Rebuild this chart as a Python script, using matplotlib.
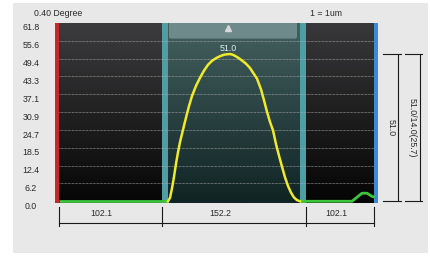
import numpy as np
import matplotlib
matplotlib.use("Agg")
import matplotlib.pyplot as plt
from matplotlib.patches import Rectangle, FancyBboxPatch

plt.rcParams['font.family'] = ['Liberation Sans', 'DejaVu Sans']

# y scale ticks
y_ticks = [0.0, 6.2, 12.4, 18.5, 24.7, 30.9, 37.1, 43.3, 49.4, 55.6, 61.8]

# profile (position along scan, height)
yel_x = [113, 115, 117, 119, 121, 123, 125, 128, 131, 134, 137, 141, 145, 149, 153,
         157, 161, 165, 169, 173, 176, 179, 183, 187, 191, 195, 198, 202, 206, 209,
         212, 215, 218, 221, 224, 227, 230, 233, 236, 239, 242, 245]
yel_y = [0.0, 1.2, 4.5, 8.5, 13.0, 17.0, 20.5, 24.8, 29.0, 33.0, 36.5, 40.0, 42.8,
         45.3, 47.3, 48.7, 49.6, 50.3, 50.8, 51.0, 51.0, 50.6, 49.8, 48.8, 47.7, 46.2,
         44.6, 42.5, 38.8, 35.0, 31.0, 27.5, 24.6, 19.8, 15.8, 12.0, 8.3, 5.3, 3.0,
         1.3, 0.4, 0.0]
grn_left_x = [4, 113]
grn_left_y = [0.0, 0.0]
grn_right_x = [245, 297, 302, 307, 312, 317, 320]
grn_right_y = [0.0, 0.0, 1.4, 2.8, 2.8, 1.7, 1.4]

# regions / edges
band_edges = [(107, 113), (245, 251)]
dim_edges = [4, 107, 251, 319]
dim_labels = ['102.1', '152.2', '102.1']
dim_label_x = [46, 165, 281]
peak_label = '51.0'
side_label = '51.0/14.0(25.7)'

W, H = 431, 257
fig = plt.figure(figsize=(W / 100, H / 100), dpi=100, facecolor='white')
fig.patches.append(Rectangle((13 / W, 1 - 253 / H), 415 / W, 250 / H,
                             transform=fig.transFigure, facecolor='#e8e8e8',
                             edgecolor='none', zorder=-10))

ax = fig.add_axes([55 / W, 1 - 203 / H, 323 / W, 180 / H])
ax.set_zorder(1)
ax.axis('off')

def grad(top, bottom, n=64):
    t = np.linspace(0, 1, n)[:, None]
    a = np.array(matplotlib.colors.to_rgb(top))
    b = np.array(matplotlib.colors.to_rgb(bottom))
    return (a * (1 - t) + b * t)[:, None, :]

ylo, yhi = -0.6, 61.8
ax.imshow(grad('#3c3c3e', '#060606'), extent=(4, 107, ylo, yhi), aspect='auto', zorder=0)
ax.imshow(grad('#43605f', '#112424'), extent=(113, 245, ylo, yhi), aspect='auto', zorder=0)
ax.imshow(grad('#38383a', '#050505'), extent=(251, 319, ylo, yhi), aspect='auto', zorder=0)
ax.set_xlim(0, 323)
ax.set_ylim(ylo, yhi)
for x0, x1 in band_edges:
    ax.axvspan(x0, x1, color='#4e9ea4', lw=0, zorder=1)
ax.axvspan(0, 4, color='#c4282c', lw=0, zorder=1)
ax.axvspan(319, 323, color='#3a8ad4', lw=0, zorder=1)

# tab at top of middle region
ax.add_patch(FancyBboxPatch((114, 56.4), 128, 10, boxstyle='round,pad=0,rounding_size=2',
                            facecolor='#6f8a8b', edgecolor='none', zorder=2,
                            mutation_aspect=1 / 2.885))
ax.plot([173], [59.9], marker='^', ms=4.5, color='#d8d8d8', zorder=3)

for v in y_ticks[1:-1]:
    ax.axhline(v, xmin=4 / 323, xmax=319 / 323, color='#b4b4b4', lw=0.5,
               ls=(0, (1, 1)), zorder=2)

ax.plot(grn_left_x, grn_left_y, color='#3cc43c', lw=2, zorder=4, solid_capstyle='butt')
ax.plot(grn_right_x, grn_right_y, color='#3cc43c', lw=2, zorder=4, solid_capstyle='butt')
ax.plot(yel_x, yel_y, color='#f0ea2a', lw=1.8, zorder=5)

peak = max(yel_y)
ax.text(yel_x[int(np.argmax(yel_y))], peak + 2.1, peak_label, color='#dfeef0',
        fontsize=6.3, ha='center', va='center', zorder=6)

# y tick labels
for v in y_ticks:
    ax.annotate(f'{v:.1f}', xy=(-24, v), xytext=(0, -5), textcoords='offset pixels',
                ha='center', va='center', fontsize=6.3, color='#2a2a2a',
                annotation_clip=False)

# bottom dimension line
lk = dict(color='#1a1a1a', lw=0.8, clip_on=False)
ax.plot([dim_edges[0], dim_edges[-1]], [-7.5, -7.5], **lk)
for e in dim_edges:
    ax.plot([e, e], [-2.0, -8.6], **lk)
for lx, lab in zip(dim_label_x, dim_labels):
    ax.text(lx, -4.4, lab, fontsize=6.3, ha='center', va='center', color='#2a2a2a',
            clip_on=False)

# right dimension lines
for xc, c0, c1, tx, lab in [(343, 328, 346, 336, peak_label),
                            (365, 350, 367, 357, side_label)]:
    ax.plot([xc, xc], [0, peak], **lk)
    ax.plot([c0, c1], [0, 0], **lk)
    ax.plot([c0, c1], [peak, peak], **lk)
    ax.text(tx, peak / 2, lab, rotation=-90, fontsize=6.3, ha='center', va='center',
            color='#2a2a2a', clip_on=False)

fig.text(58.5 / W, 1 - 14 / H, '0.40 Degree', fontsize=6.3, ha='center', va='center',
         color='#2a2a2a')
fig.text(326 / W, 1 - 14 / H, '1 = 1um', fontsize=6.3, ha='center', va='center',
         color='#2a2a2a')

fig.savefig('out.png', dpi=100, facecolor='white')
